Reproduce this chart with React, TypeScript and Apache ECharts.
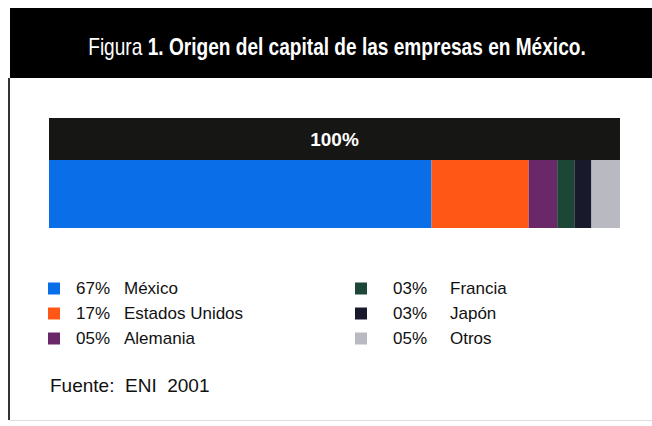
import React, { useEffect, useRef } from "react";
import * as echarts from "echarts";

const categories = ["México", "Estados Unidos", "Alemania", "Francia", "Japón", "Otros"];
const shares = [67, 17, 5, 3, 3, 5];
const colors = ["#0a6ee8", "#ff5816", "#6a2868", "#1c4636", "#181a2c", "#b9b9c1"];
const totalValue = [100];
const totalLabel = "100%";
const titleNormal = "Figura ";
const titleBold = "1. Origen del capital de las empresas en México.";
const source = "Fuente:  ENI  2001";

const sans = "'Liberation Sans', Arial, sans-serif";

export default function App() {
  const ref = useRef<HTMLDivElement>(null);
  useEffect(() => {
    document.body.style.margin = "0";
    if (!ref.current) return;
    const chart = echarts.init(ref.current, undefined, { renderer: "svg" });
    const pct = (name: string) => {
      const i = categories.indexOf(name);
      return String(shares[i]).padStart(2, "0") + "%";
    };
    const legendRich = (pad: number, pw: number) => ({
      p: { width: pw, padding: [0, 0, 0, pad], fontSize: 17, fontFamily: sans, color: "#111", lineHeight: 20 },
      n: { fontSize: 17, fontFamily: sans, color: "#111", lineHeight: 20 },
    });
    const stacked = categories.map((c, i) => ({
      name: c,
      type: "bar",
      stack: "share",
      xAxisIndex: 1,
      yAxisIndex: 1,
      barWidth: "100%",
      data: [shares[i]],
      itemStyle: { color: colors[i] },
    }));
    chart.setOption({
      animation: false,
      backgroundColor: "#ffffff",
      graphic: [
        { type: "rect", shape: { x: 10, y: 8, width: 642, height: 70 }, style: { fill: "#000" } },
        { type: "rect", shape: { x: 8, y: 78, width: 2, height: 342 }, style: { fill: "#333" } },
        { type: "rect", shape: { x: 10, y: 420, width: 642, height: 1 }, style: { fill: "#ddd" } },
        {
          type: "text",
          x: 337,
          y: 47,
          scaleX: 0.83,
          style: {
            text: `{a|${titleNormal}}{b|${titleBold}}`,
            align: "center",
            verticalAlign: "middle",
            rich: {
              a: { fontSize: 23, fontFamily: sans, fill: "#fff", fontWeight: "normal" },
              b: { fontSize: 23, fontFamily: sans, fill: "#fff", fontWeight: "bold" },
            },
          },
        },
        {
          type: "text",
          x: 50,
          y: 385,
          style: { text: source, fontSize: 19, fontFamily: sans, fill: "#111", verticalAlign: "middle" },
        },
      ],
      grid: [
        { left: 49, right: 32, top: 118, height: 42 },
        { left: 49, right: 32, top: 160, height: 68 },
      ],
      xAxis: [
        { type: "value", gridIndex: 0, min: 0, max: 100, show: false },
        { type: "value", gridIndex: 1, min: 0, max: 100, show: false },
      ],
      yAxis: [
        { type: "category", gridIndex: 0, data: ["Total"], show: false },
        { type: "category", gridIndex: 1, data: ["Origen"], show: false },
      ],
      legend: [
        {
          data: categories.slice(0, 3),
          orient: "vertical",
          left: 43,
          top: 275,
          icon: "rect",
          itemWidth: 12,
          itemHeight: 12,
          itemGap: 8,
          selectedMode: false,
          formatter: (name: string) => `{p|${pct(name)}}{n|${name}}`,
          textStyle: { rich: legendRich(11, 48) },
        },
        {
          data: categories.slice(3),
          orient: "vertical",
          left: 350,
          top: 275,
          icon: "rect",
          itemWidth: 12,
          itemHeight: 12,
          itemGap: 8,
          selectedMode: false,
          formatter: (name: string) => `{p|${pct(name)}}{n|${name}}`,
          textStyle: { rich: legendRich(21, 57) },
        },
      ],
      series: [
        {
          name: "Total",
          type: "bar",
          xAxisIndex: 0,
          yAxisIndex: 0,
          barWidth: "100%",
          data: totalValue,
          itemStyle: { color: "#161614" },
          label: {
            show: true,
            position: "inside",
            formatter: totalLabel,
            color: "#fff",
            fontSize: 19,
            fontWeight: "bold",
            fontFamily: sans,
          },
        },
        ...stacked,
      ],
    });
    return () => chart.dispose();
  }, []);
  return <div ref={ref} style={{ width: 652, height: 426 }} />;
}
